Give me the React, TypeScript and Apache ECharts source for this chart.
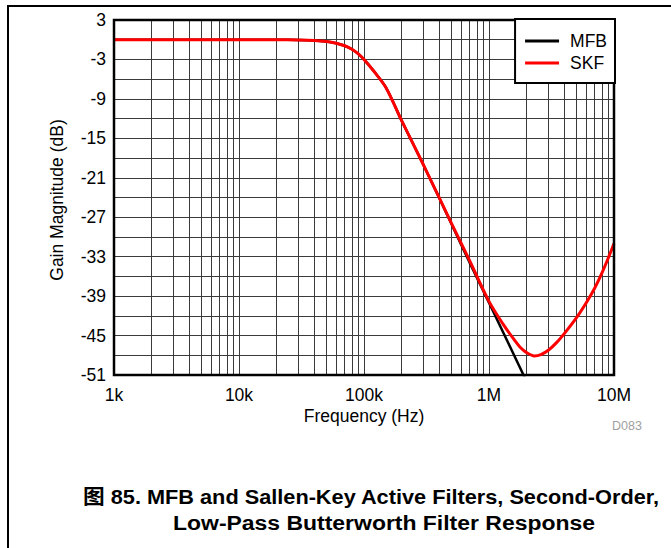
import React, { useEffect, useRef } from "react";
import * as echarts from "echarts";

const FONT = "'Liberation Sans', Arial, Helvetica, sans-serif";

const seriesNames = ["MFB", "SKF"];

const mfbFreq = [1000, 3000, 10000, 20000, 30000, 40000, 50000, 60000, 70000, 80000, 90000, 100000, 120000, 150000, 200000, 300000, 500000, 700000, 1000000, 1500000, 2000000];
const mfbGain = [0, 0, 0, -0.01, -0.03, -0.1, -0.26, -0.53, -0.92, -1.45, -2.15, -3.0, -4.8, -7.3, -12.3, -19.1, -28.0, -33.9, -40.0, -47.0, -52.0];

const skfFreq = [1000, 3000, 10000, 20000, 30000, 40000, 50000, 60000, 70000, 80000, 90000, 100000, 120000, 150000, 200000, 300000, 500000, 700000, 1000000, 1300000, 1600000, 1800000, 2000000, 2300000, 2600000, 3000000, 3500000, 4000000, 5000000, 6000000, 7000000, 8000000, 9000000, 10000000];
const skfGain = [0, 0, 0, -0.01, -0.03, -0.1, -0.26, -0.53, -0.92, -1.45, -2.15, -3.0, -4.8, -7.3, -12.3, -19.1, -27.9, -33.6, -39.8, -43.3, -45.7, -46.9, -47.6, -48.1, -47.9, -47.2, -46.0, -44.7, -42.3, -40.0, -37.8, -35.5, -33.2, -31.0];

const xTickValues = [1000, 10000, 100000, 1000000, 10000000];
const xTickLabels = ["1k", "10k", "100k", "1M", "10M"];

const yMin = -51;
const yMax = 3;
const yInterval = 3;

const minorX: number[] = [];
for (let d = 1000; d < 10000000; d *= 10) {
  for (let m = 2; m <= 9; m++) minorX.push(d * m);
}

export default function App() {
  const ref = useRef<HTMLDivElement>(null);
  useEffect(() => {
    if (!ref.current) return;
    const chart = echarts.init(ref.current, null, { renderer: "svg" });
    const gridColor = "#3a3a3a";
    chart.setOption({
      animation: false,
      backgroundColor: "#fff",
      grid: {
        left: 114,
        right: 57,
        top: 20,
        bottom: 173,
        show: true,
        borderColor: "#000",
        borderWidth: 2.5,
        backgroundColor: "transparent",
        z: 10,
      },
      legend: {
        data: seriesNames.map((n) => ({ name: n, icon: "rect" })),
        orient: "vertical",
        right: 56,
        top: 19,
        itemWidth: 34,
        itemHeight: 3,
        itemGap: 4,
        padding: [13, 8, 11, 10],
        backgroundColor: "#fff",
        borderColor: "#000",
        borderWidth: 2,
        textStyle: { fontFamily: FONT, fontSize: 17.5, color: "#000", padding: [0, 0, 0, 6] },
        z: 20,
      },
      xAxis: {
        type: "log",
        logBase: 10,
        min: 1000,
        max: 10000000,
        axisLine: { show: false },
        axisTick: { show: false },
        splitLine: { show: true, lineStyle: { color: gridColor, width: 1 } },
        axisLabel: {
          fontFamily: FONT,
          fontSize: 17.5,
          color: "#000",
          margin: 11,
          formatter: (v: number) => {
            const i = xTickValues.findIndex((t) => Math.abs(t - v) / t < 1e-6);
            return i >= 0 ? xTickLabels[i] : "";
          },
        },
      },
      yAxis: {
        type: "value",
        min: yMin,
        max: yMax,
        interval: yInterval,
        axisLine: { show: false },
        axisTick: { show: false },
        splitLine: { show: true, lineStyle: { color: gridColor, width: 1 } },
        axisLabel: {
          fontFamily: FONT,
          fontSize: 17.5,
          color: "#000",
          margin: 8,
          formatter: (v: number) => ((Math.round(v) - yMin) % 6 === 0 ? String(Math.round(v)) : ""),
        },
      },
      series: [
        {
          name: "MFB",
          type: "line",
          data: mfbFreq.map((f, i) => [f, mfbGain[i]]),
          symbol: "none",
          smooth: 0.3,
          clip: true,
          lineStyle: { color: "#000", width: 2.5 },
          itemStyle: { color: "#000" },
          z: 3,
          markLine: {
            silent: true,
            symbol: "none",
            label: { show: false },
            lineStyle: { color: gridColor, width: 1, type: "solid" },
            data: minorX.map((x) => ({ xAxis: x })),
            z: 1,
          },
        },
        {
          name: "SKF",
          type: "line",
          data: skfFreq.map((f, i) => [f, skfGain[i]]),
          symbol: "none",
          smooth: 0.3,
          clip: true,
          lineStyle: { color: "#ff0000", width: 3 },
          itemStyle: { color: "#ff0000" },
          z: 4,
        },
      ],
      graphic: [
        { type: "line", shape: { x1: 7, y1: 6, x2: 671, y2: 6 }, style: { stroke: "#000", lineWidth: 2 } },
        { type: "line", shape: { x1: 8, y1: 6, x2: 8, y2: 548 }, style: { stroke: "#000", lineWidth: 2 } },
        {
          type: "text",
          x: 57,
          y: 200,
          rotation: Math.PI / 2,
          style: { text: "Gain Magnitude (dB)", font: `17.5px ${FONT}`, fill: "#000", align: "center", verticalAlign: "middle" },
        },
        {
          type: "text",
          x: 364,
          y: 416,
          style: { text: "Frequency (Hz)", font: `17.5px ${FONT}`, fill: "#000", align: "center", verticalAlign: "middle" },
        },
        {
          type: "text",
          x: 627,
          y: 426,
          style: { text: "D083", font: `12.5px ${FONT}`, fill: "#a0a0a0", align: "center", verticalAlign: "middle" },
        },
        {
          type: "text",
          x: 371,
          y: 497,
          scaleX: 1.06,
          style: { text: "图 85. MFB and Sallen-Key Active Filters, Second-Order,", font: `bold 20.5px ${FONT}, 'Noto Sans CJK SC'`, fill: "#000", align: "center", verticalAlign: "middle" },
        },
        {
          type: "text",
          x: 384,
          y: 523,
          scaleX: 1.12,
          style: { text: "Low-Pass Butterworth Filter Response", font: `bold 20.5px ${FONT}`, fill: "#000", align: "center", verticalAlign: "middle" },
        },
      ],
    });
    return () => chart.dispose();
  }, []);
  return <div ref={ref} style={{ width: 671, height: 548, position: "absolute", left: 0, top: 0 }} />;
}
